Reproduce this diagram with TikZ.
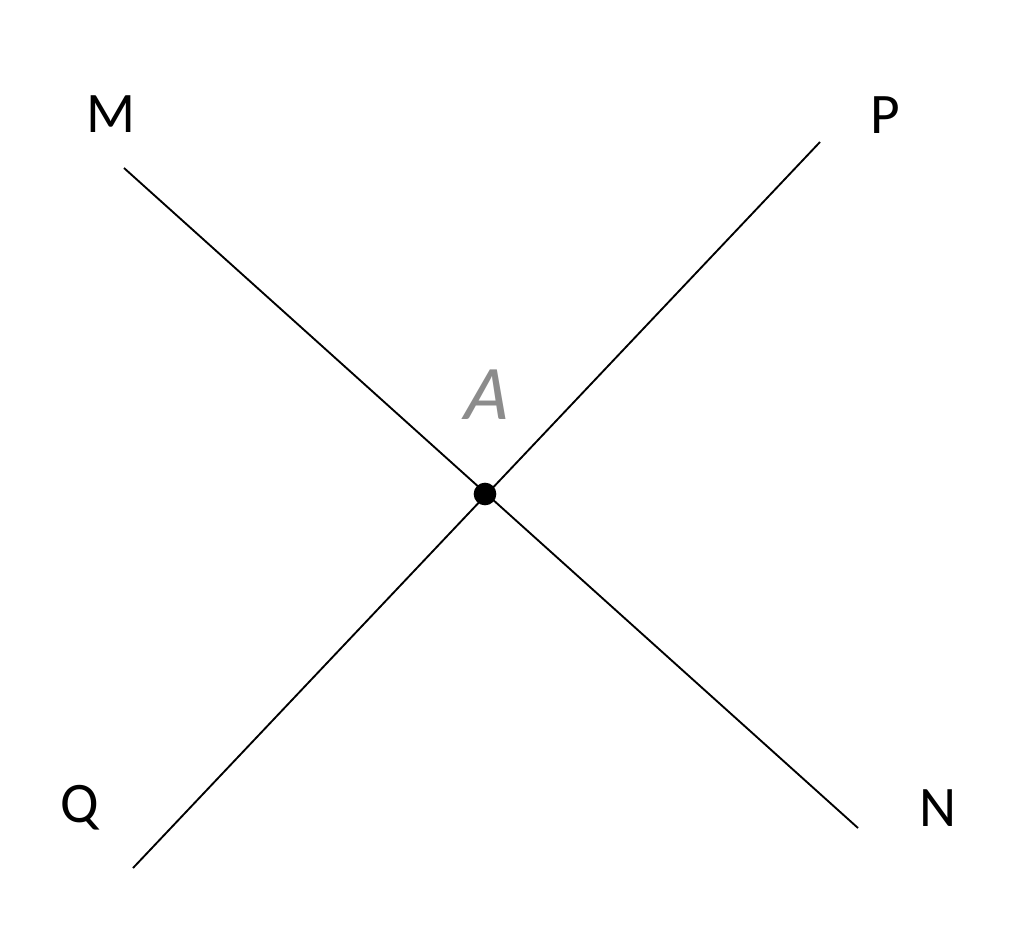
\documentclass[tikz,border=0pt]{standalone}
\usepackage{fontspec}
\setmainfont{Carlito}
\begin{document}
\begin{tikzpicture}[x=0.75pt,y=-0.75pt,line width=1.4pt]
\tikzset{lbl/.style={font=\fontsize{43}{50}\selectfont}}
\useasboundingbox (0,0) rectangle (1024,929);
\coordinate (m) at (124,168);
\coordinate (n) at (858,828);
\coordinate (p) at (820,142);
\coordinate (q) at (133,868);
\draw (m) -- (n);
\draw (p) -- (q);
\node[circle,fill=black,inner sep=0pt,minimum size=17pt] (a) at (485,494) {};
\node[lbl] (M) at (111,114) {M};
\node[lbl] (P) at (885,115) {P};
\node[lbl] (Q) at (80,808) {Q};
\node[lbl] (N) at (938,808) {N};
\node[lbl,text=black!45,font=\fontsize{58}{60}\selectfont,xslant=0.2] (A) at (489,395) {A};
\end{tikzpicture}
\end{document}
